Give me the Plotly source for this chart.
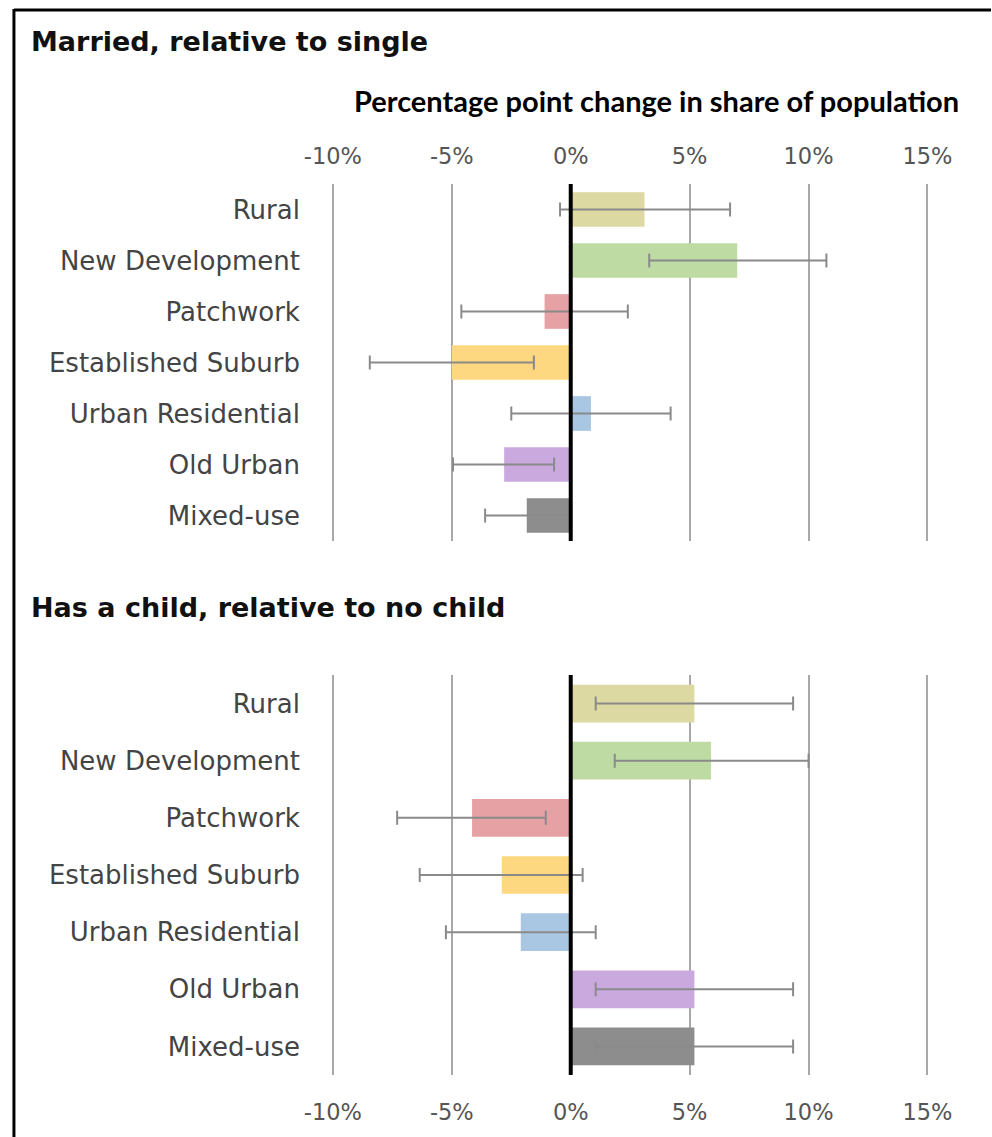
import plotly.graph_objects as go

categories = ["Rural", "New Development", "Patchwork", "Established Suburb",
              "Urban Residential", "Old Urban", "Mixed-use"]
colors = ["#dcd9a2", "#bedba4", "#e5a1a3", "#fed880", "#a9c6e3", "#c9a9de", "#8d8d8d"]

married_value = [3.1, 7.0, -1.1, -5.0, 0.85, -2.8, -1.85]
married_low = [-0.45, 3.3, -4.6, -8.45, -2.5, -4.95, -3.6]
married_high = [6.7, 10.75, 2.4, -1.55, 4.2, -0.7, -0.05]

child_value = [5.2, 5.9, -4.15, -2.9, -2.1, 5.2, 5.2]
child_low = [1.05, 1.85, -7.3, -6.35, -5.25, 1.05, 1.05]
child_high = [9.35, 10.0, -1.05, 0.5, 1.05, 9.35, 9.35]

tick_vals = [-10, -5, 0, 5, 10, 15]
tick_text = ["-10%", "-5%", "0%", "5%", "10%", "15%"]

W, H = 992, 1137
FONT = "DejaVu Sans"
TITLE_FONT = "DejaVu Sans"


def py(p):
    return 1 - p / H


fig = go.Figure()


def add_panel(values, low, high, xa, ya, width):
    fig.add_trace(go.Bar(
        y=categories, x=values, orientation="h",
        marker=dict(color=colors, line=dict(width=0)),
        width=width,
        error_x=dict(type="data", symmetric=False,
                     array=[h - v for h, v in zip(high, values)],
                     arrayminus=[v - l for l, v in zip(low, values)],
                     color="#8a8a8a", thickness=2, width=7),
        xaxis=xa, yaxis=ya, showlegend=False, hoverinfo="skip",
    ))


add_panel(married_value, married_low, married_high, "x", "y", 0.68)
add_panel(child_value, child_low, child_high, "x2", "y2", 0.66)

xr = [-11, 16]
xdom = [306 / W, 952 / W]
axis_common = dict(range=xr, tickvals=tick_vals, ticktext=tick_text,
                   showgrid=True, gridcolor="#a8a8a8", gridwidth=2,
                   zeroline=False, showline=False,
                   tickfont=dict(family=FONT, size=22.5, color="#555555"),
                   ticks="outside", tickcolor="rgba(0,0,0,0)")
yaxis_common = dict(autorange="reversed", showgrid=False, zeroline=False, showline=False,
                    tickfont=dict(family=FONT, size=26, color="#444444"),
                    ticks="outside", ticklen=3, tickcolor="rgba(0,0,0,0)")

fig.update_layout(
    width=W, height=H, margin=dict(l=0, r=0, t=0, b=0),
    paper_bgcolor="white", plot_bgcolor="white",
    xaxis=dict(domain=xdom, anchor="y", side="top", ticklen=10, **axis_common),
    xaxis2=dict(domain=xdom, anchor="y2", side="bottom", ticklen=17, **axis_common),
    yaxis=dict(domain=[py(541), py(184)], anchor="x", **yaxis_common),
    yaxis2=dict(domain=[py(1075), py(675)], anchor="x2", **yaxis_common),
)

shapes = [
    dict(type="line", xref="x", yref="y domain", x0=0, x1=0, y0=0, y1=1,
         line=dict(color="black", width=4), layer="above"),
    dict(type="line", xref="x2", yref="y2 domain", x0=0, x1=0, y0=0, y1=1,
         line=dict(color="black", width=4), layer="above"),
    dict(type="line", xref="paper", yref="paper", x0=9 / W, x1=1, y0=py(10), y1=py(10),
         line=dict(color="black", width=3)),
    dict(type="line", xref="paper", yref="paper", x0=9 / W, x1=9 / W, y0=0, y1=py(9),
         line=dict(color="black", width=3)),
]
fig.update_layout(shapes=shapes)

fig.add_annotation(text="<b>Married, relative to single</b>", xref="paper", yref="paper",
                   x=24 / W, y=py(42), xanchor="left", yanchor="middle", showarrow=False,
                   font=dict(family=TITLE_FONT, size=27, color="#111111"))
fig.add_annotation(text="<b>Has a child, relative to no child</b>", xref="paper", yref="paper",
                   x=24 / W, y=py(607), xanchor="left", yanchor="middle", showarrow=False,
                   font=dict(family=TITLE_FONT, size=27, color="#111111"))
fig.add_annotation(text="<b>Percentage point change in share of population</b>",
                   xref="paper", yref="paper",
                   x=962 / W, y=py(100), xanchor="right", yanchor="middle", showarrow=False,
                   font=dict(family="Lato", size=29, color="#000000"))

fig.write_html("out.html")
